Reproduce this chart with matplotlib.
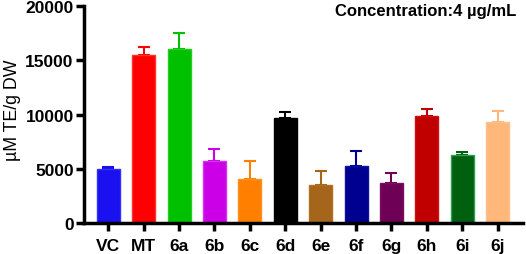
import matplotlib.pyplot as plt
import numpy as np

plt.rcParams['font.family'] = ['Liberation Sans', 'DejaVu Sans']

# Datos
labels = ['VC', 'MT', '6a', '6b', '6c', '6d', '6e', '6f', '6g', '6h', '6i', '6j']
values = [5050, 15500, 16000, 5770, 4080, 9670, 3560, 5300, 3680, 9910, 6320, 9300]
errors = [150, 700, 1550, 1100, 1630, 550, 1290, 1320, 980, 640, 250, 1070]
colors = ['#1a10f0', '#ff0000', '#00c000', '#cc00e6', '#ff8000', '#000000',
          '#a5661c', '#000090', '#6e0055', '#c00000', '#006010', '#ffb87a']
edges = ['#3030ff', '#ff3030', '#20d020', '#d830f0', '#ff9020', '#000000',
         '#b07020', '#1010a0', '#7a1060', '#d01010', '#30a050', '#ffc090']

fig = plt.figure(figsize=(5.26, 2.55), dpi=100)
ax = fig.add_axes([0.16, 0.12, 0.834, 0.8525])

x = np.arange(len(labels))
ax.bar(x, values, width=0.65, color=colors, edgecolor=edges, linewidth=1, zorder=2)
for i in range(len(x)):
    ax.errorbar(x[i], values[i], yerr=[[0], [errors[i]]], fmt='none',
                ecolor=colors[i], elinewidth=1.5, capsize=4.3, capthick=1.5, zorder=1)

ax.set_xlim(-0.68, 11.71)
ax.set_ylim(0, 20000)
ax.set_yticks([0, 5000, 10000, 15000, 20000])
ax.set_xticks(x)
ax.set_xticklabels(labels)

for s in ['top', 'right']:
    ax.spines[s].set_visible(False)
for s in ['left', 'bottom']:
    ax.spines[s].set_linewidth(2.5)
ax.tick_params(axis='both', width=2.5, length=5.5, labelsize=12.5)
ax.tick_params(axis='x', pad=5)
ax.tick_params(axis='y', pad=2)
for t in ax.get_xticklabels() + ax.get_yticklabels():
    t.set_fontweight('bold')

fig.text(0.023, 0.569, 'µM TE/g DW', rotation=90, ha='center', va='center',
         fontsize=12.8)
fig.text(0.982, 0.955, 'Concentration:4 µg/mL', ha='right', va='center',
         fontsize=12, fontweight='bold')

fig.savefig('out.png', dpi=100)
